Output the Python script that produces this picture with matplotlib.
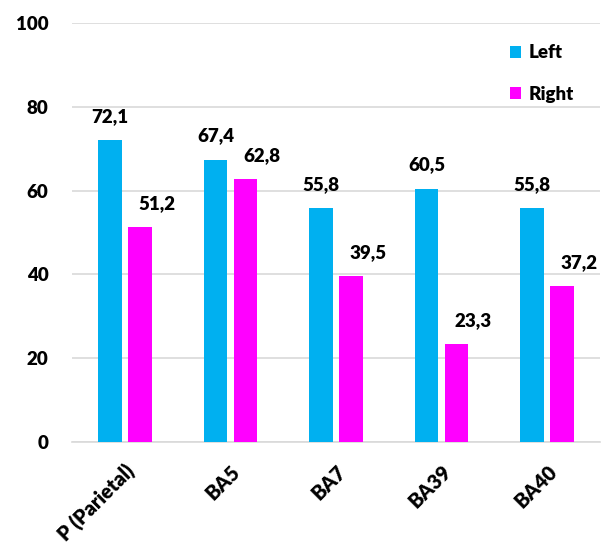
import matplotlib
matplotlib.use("Agg")
import matplotlib.pyplot as plt
import numpy as np

categories = ["P (Parietal)", "BA5", "BA7", "BA39", "BA40"]
left_values = [72.1, 67.4, 55.8, 60.5, 55.8]
right_values = [51.2, 62.8, 39.5, 23.3, 37.2]
y_ticks = [0, 20, 40, 60, 80, 100]
series_names = ["Left", "Right"]

plt.rcParams['font.family'] = ['Lato', 'DejaVu Sans']
plt.rcParams['font.weight'] = 'heavy'
FW = 'heavy'
FS = 13.5

fig = plt.figure(figsize=(6.06, 5.51), dpi=100)
ax = fig.add_axes([0.119, 0.198, 0.871, 0.760])

x = np.arange(len(categories))
w = 0.225
off = 0.142
c_left = "#00B0F0"
c_right = "#FF00FF"

b1 = ax.bar(x - off, left_values, w, color=c_left, label=series_names[0], zorder=3)
b2 = ax.bar(x + off, right_values, w, color=c_right, label=series_names[1], zorder=3)

def fmt(v):
    return f"{v:.1f}".replace(".", ",")

for bars, vals, dx in ((b1, left_values, 0), (b2, right_values, 12)):
    for rect, v in zip(bars, vals):
        ax.annotate(fmt(v), (rect.get_x() + rect.get_width() / 2, v),
                    xytext=(dx, 11), textcoords="offset points",
                    ha="center", va="bottom", fontsize=FS, fontweight=FW)

ax.set_xlim(-0.5, len(categories) - 0.5)
ax.set_ylim(0, 100)
ax.set_yticks(y_ticks)
ax.set_yticklabels([str(t) for t in y_ticks], fontsize=FS, fontweight=FW)
ax.set_xticks(x)
ax.set_xticklabels(categories, rotation=45, ha="right", rotation_mode="anchor",
                   fontsize=14.5, fontweight=FW)
ax.tick_params(axis="y", length=0, pad=17)
ax.tick_params(axis="x", length=0, pad=14)

ax.grid(axis="y", color="#D9D9D9", linewidth=1.2, zorder=0)
for s in ("top", "right", "left"):
    ax.spines[s].set_visible(False)
ax.spines["bottom"].set_color("#D9D9D9")
ax.spines["bottom"].set_linewidth(1.2)

leg = ax.legend(loc="upper left", bbox_to_anchor=(0.797, 0.99), frameon=False,
                handlelength=0.6, handleheight=0.6, handletextpad=0.4,
                labelspacing=1.3, prop={"weight": FW, "size": FS})

fig.savefig("out.png", dpi=100)
